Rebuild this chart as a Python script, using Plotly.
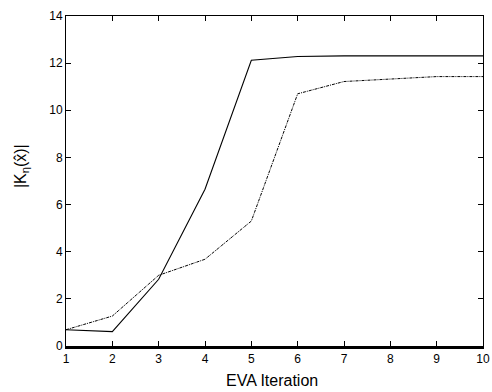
import plotly.graph_objects as go

iterations = [1, 2, 3, 4, 5, 6, 7, 8, 9, 10]
solid_vals = [0.69, 0.61, 2.83, 6.65, 12.12, 12.28, 12.31, 12.31, 12.31, 12.31]
dotted_vals = [0.69, 1.27, 3.0, 3.68, 5.3, 10.7, 11.22, 11.34, 11.43, 11.43]
x_ticks = [1, 2, 3, 4, 5, 6, 7, 8, 9, 10]
y_ticks = [0, 2, 4, 6, 8, 10, 12, 14]

FONT = "Liberation Sans, Arial, sans-serif"

fig = go.Figure()
fig.add_trace(go.Scatter(x=iterations, y=solid_vals, mode="lines",
                         line=dict(color="black", width=1.1), showlegend=False, hoverinfo="skip"))
fig.add_trace(go.Scatter(x=iterations, y=dotted_vals, mode="lines",
                         line=dict(color="black", width=1, dash="3px,1px,1px,1px"), showlegend=False,
                         hoverinfo="skip"))
# invisible trace to activate top axis
fig.add_trace(go.Scatter(x=[iterations[0]], y=[solid_vals[0]], xaxis="x2", mode="lines",
                         opacity=0, showlegend=False, hoverinfo="skip"))

tickfont = dict(family=FONT, size=12, color="black")

fig.update_layout(
    width=492, height=392, margin=dict(l=66, r=9, t=16, b=46, autoexpand=False),
    plot_bgcolor="white", paper_bgcolor="white",
    xaxis=dict(range=[1, 10], tickvals=x_ticks, ticktext=[str(v) for v in x_ticks],
               automargin=False,
               showgrid=False, zeroline=False, showline=True, linecolor="black", linewidth=2.5,
               ticks="inside", ticklen=5, tickcolor="black", tickfont=tickfont),
    xaxis2=dict(range=[1, 10], tickvals=x_ticks, overlaying="x", side="top", automargin=False,
                showgrid=False, zeroline=False, showline=True, linecolor="black", linewidth=1,
                ticks="inside", ticklen=5, tickcolor="black", showticklabels=False),
    yaxis=dict(range=[0, 14], tickvals=y_ticks, ticktext=[str(v) for v in y_ticks],
               automargin=False,
               showgrid=False, zeroline=False, showline=True, linecolor="black", linewidth=1,
               mirror="ticks", ticks="inside", ticklen=5, tickcolor="black", tickfont=tickfont),
    annotations=[
        dict(text="|K<sub>η</sub>(x̂)|", xref="paper", yref="paper",
             x=-0.108, y=0.545, xanchor="center", yanchor="middle",
             textangle=-90, showarrow=False,
             font=dict(family=FONT, size=16, color="black")),
        dict(text="EVA Iteration", xref="paper", yref="paper",
             x=0.495, y=-0.106, xanchor="center", yanchor="middle",
             showarrow=False, font=dict(family=FONT, size=16, color="black")),
    ],
)
fig.write_html("out.html", config={"displayModeBar": False},
               post_script="document.body.style.margin='0';document.body.style.overflow='hidden';")
